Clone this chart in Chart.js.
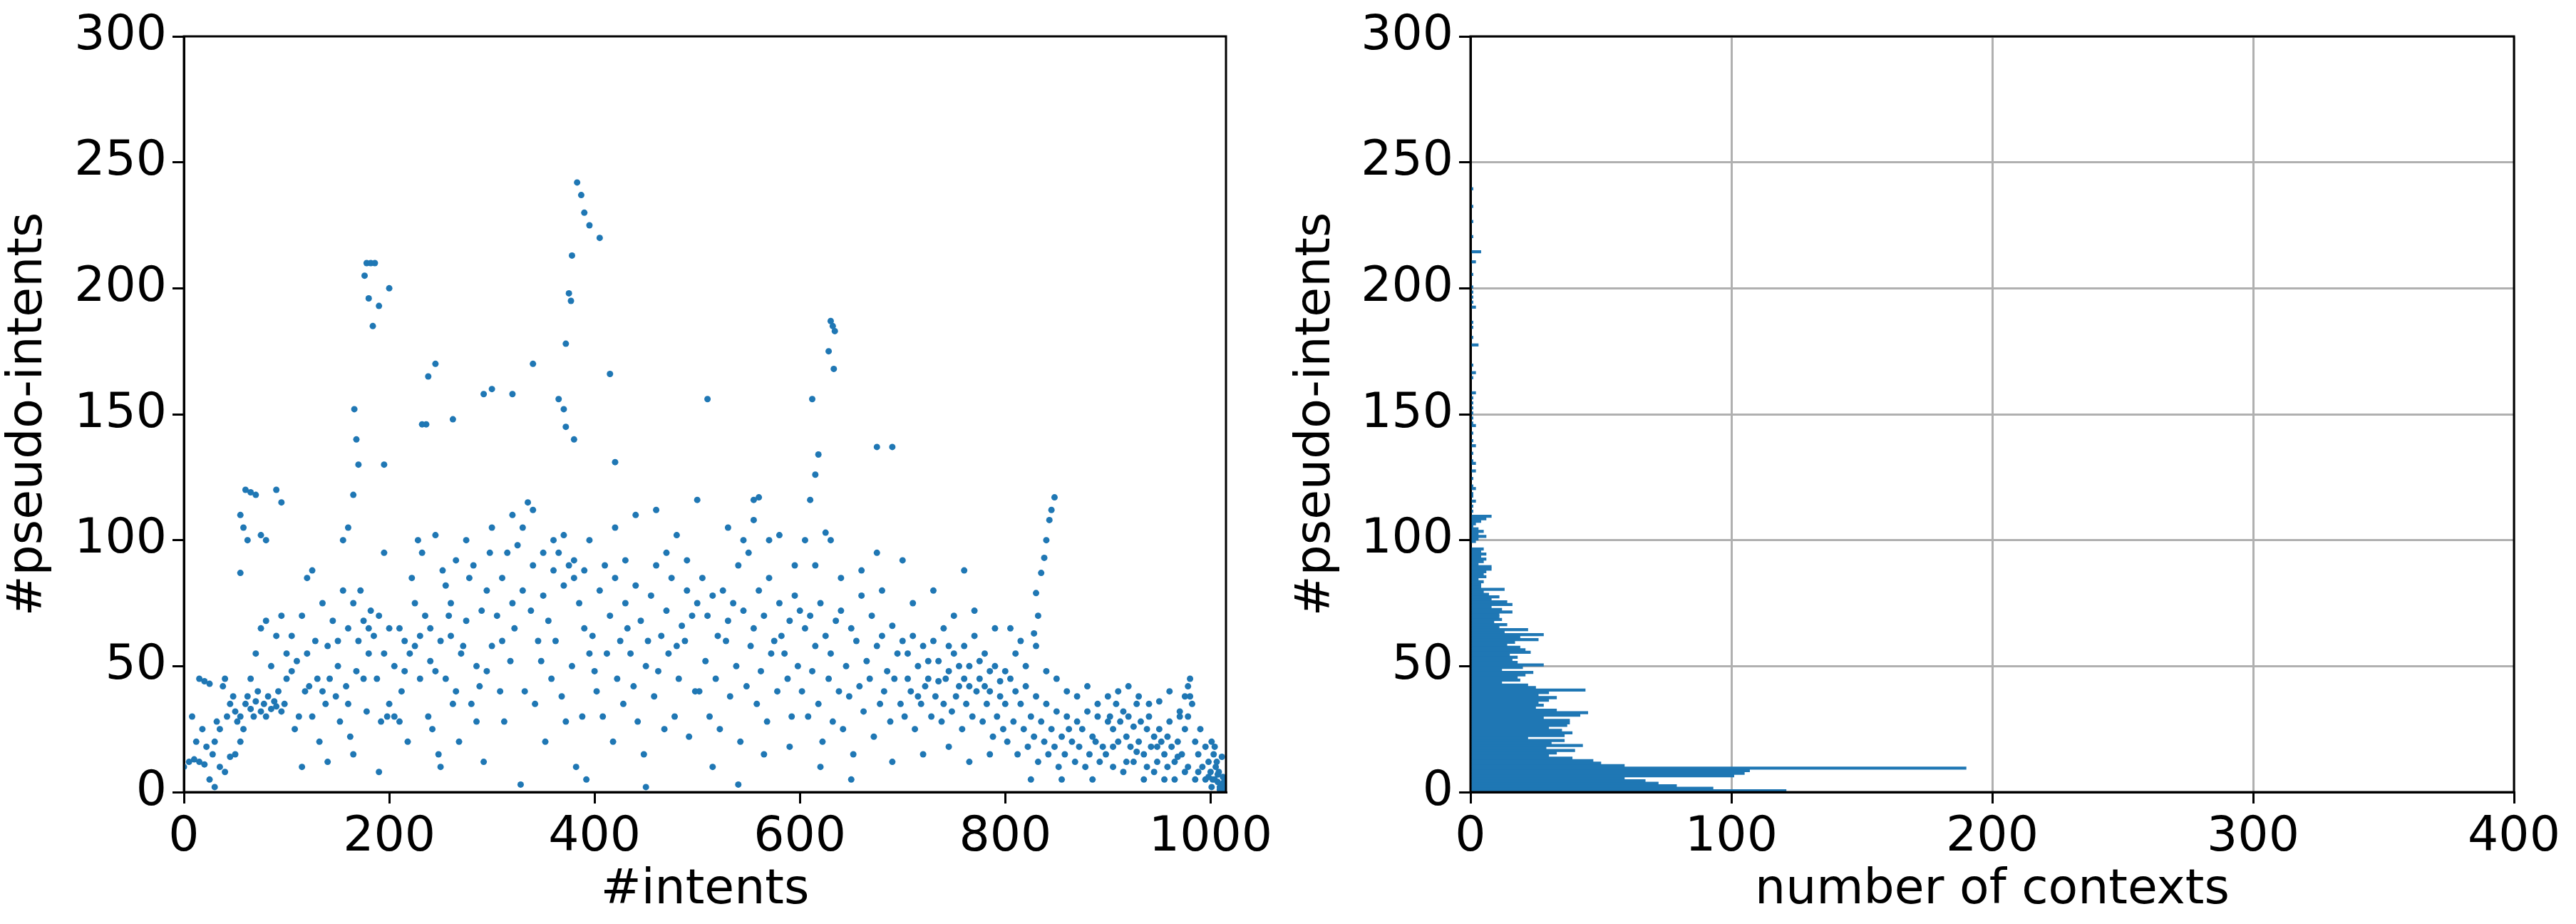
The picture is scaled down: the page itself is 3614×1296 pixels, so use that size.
<!DOCTYPE html>
<html>
<head>
<meta charset="utf-8">
<script src="https://cdn.jsdelivr.net/npm/chart.js@4.4.1/dist/chart.umd.min.js"></script>
<style>
  body { margin: 0; background: #fff; }
  #wrap { position: relative; width: 3614px; height: 1296px; }
  .box { position: absolute; top: 0; width: 1807px; height: 1296px; }
</style>
</head>
<body>
<div id="wrap">
  <div class="box" style="left:0"><canvas id="scatterChart"></canvas></div>
  <div class="box" style="left:1807px"><canvas id="histChart"></canvas></div>
</div>
<script>
// scatter: [#intents, #pseudo-intents]
const scatterPoints = [
  [0,10],[5,12],[10,13],[15,12],[20,11],[8,30],[15,45],[20,44],[25,43],[30,20],[32,28],[35,25],[38,42],[40,45],[42,30],[45,35],[48,38],[50,32],[52,28],[55,30],[58,25],[60,35],[62,38],[65,33],[68,30],[70,36],[72,40],[75,32],[78,35],[80,30],[82,38],[85,33],[88,36],[90,34],[92,40],[95,32],[98,35],[100,45],[25,5],[30,2],[40,8],[45,14],[12,20],[18,25],[22,18],[28,15],[35,10],[50,15],[55,20],[65,45],[70,55],[75,65],[80,68],[85,50],[90,62],[95,70],[100,55],
  [60,120],[65,119],[70,118],[55,110],[58,105],[62,100],[55,87],[90,120],[95,115],[75,102],[80,100],
  [105,48],[110,52],[115,70],[120,85],[125,88],[130,45],[135,40],[140,58],[145,68],[150,50],[155,80],[160,65],[165,75],[170,60],[175,68],[180,65],[185,62],[190,70],[195,55],[200,65],[108,25],[112,30],[118,40],[122,42],[128,60],[132,20],[138,35],[142,45],[148,38],[152,28],[158,42],[162,22],[168,48],[172,80],[178,32],[182,72],[188,45],[192,28],[198,30],[115,10],[140,12],[165,15],[190,8],[200,35],[205,30],[210,28],[125,30],[150,60],[175,45],[195,95],[180,55],[160,35],[120,55],[105,62],[135,75],
  [178,210],[182,210],[186,210],[176,205],[180,196],[190,193],[184,185],[200,200],[166,152],[168,140],[170,130],[160,105],[155,100],[195,130],[165,118],
  [210,65],[215,60],[220,55],[225,58],[230,62],[235,70],[240,52],[245,48],[250,60],[255,45],[260,75],[265,40],[270,55],[275,68],[280,35],[285,50],[290,72],[295,80],[300,58],[212,40],[218,20],[222,85],[228,100],[232,95],[238,30],[242,25],[248,15],[252,88],[258,70],[262,35],[268,20],[272,58],[278,85],[282,90],[288,42],[292,12],[298,95],[240,65],[260,62],[230,45],[285,28],[250,10],[275,100],[295,48],[225,75],[265,92],[205,50],[215,48],[245,102],[255,82],[300,105],
  [245,170],[238,165],[236,146],[232,146],[262,148],[292,158],[300,160],[320,158],[340,170],
  [305,70],[310,85],[315,95],[320,110],[325,98],[330,105],[335,115],[340,112],[345,60],[350,78],[355,68],[360,88],[365,95],[370,82],[375,90],[380,85],[385,75],[390,65],[395,55],[400,48],[308,40],[312,28],[318,52],[322,65],[328,3],[332,40],[338,72],[342,35],[348,52],[352,20],[358,45],[362,60],[368,38],[372,28],[378,50],[382,10],[388,30],[392,5],[398,62],[360,100],[370,102],[340,90],[320,75],[350,95],[380,92],[390,88],[395,100],[310,60],[330,80],
  [383,242],[387,237],[390,230],[395,225],[405,220],[378,213],[375,198],[377,195],[372,178],[365,156],[370,152],[372,145],[380,140],[415,166],[420,131],
  [405,80],[410,90],[415,70],[420,85],[425,60],[430,75],[435,55],[440,82],[445,68],[450,50],[455,78],[460,90],[465,62],[470,72],[475,85],[480,58],[485,66],[490,80],[495,70],[500,75],[402,40],[408,30],[412,55],[418,20],[422,45],[428,35],[432,65],[438,42],[442,28],[448,15],[452,60],[458,38],[462,48],[468,25],[472,55],[478,30],[482,45],[488,60],[492,22],[498,40],[440,110],[460,112],[480,102],[420,105],[450,2],[470,95],[490,92],[430,92],
  [505,85],[510,70],[515,78],[520,62],[525,80],[530,68],[535,75],[540,90],[545,72],[550,95],[555,65],[560,80],[565,70],[570,85],[575,60],[580,75],[585,55],[590,68],[595,78],[600,72],[502,40],[508,52],[512,30],[518,45],[522,25],[528,60],[532,38],[538,50],[542,20],[548,42],[552,58],[558,35],[562,48],[568,28],[572,55],[578,40],[582,62],[588,45],[592,30],[598,50],[515,10],[540,3],[565,15],[590,18],[545,100],[570,100],[595,90],[530,105],[555,108],[580,102],
  [630,187],[632,185],[634,183],[628,175],[633,168],[612,156],[618,134],[615,126],[510,156],[675,137],[690,137],[560,117],[555,116],[610,116],[500,116],
  [605,65],[610,70],[615,58],[620,75],[625,62],[630,55],[635,68],[640,72],[645,50],[650,65],[655,60],[660,78],[665,52],[670,70],[675,58],[680,62],[685,48],[690,66],[695,55],[700,60],[602,40],[608,30],[612,48],[618,35],[622,20],[628,45],[632,28],[638,40],[642,25],[648,38],[652,15],[658,42],[662,32],[668,45],[672,22],[678,35],[682,40],[688,28],[692,45],[698,35],[615,90],[640,85],[660,88],[680,80],[700,92],[620,10],[650,5],[690,12],[605,100],[675,95],[625,103],[630,100],
  [705,55],[710,62],[715,50],[720,58],[725,45],[730,60],[735,52],[740,65],[745,48],[750,55],[755,42],[760,58],[765,50],[770,62],[775,45],[780,55],[785,40],[790,50],[795,38],[800,48],[702,30],[708,40],[712,25],[718,35],[722,42],[728,30],[732,38],[738,28],[742,45],[748,32],[752,38],[758,25],[762,35],[768,30],[772,40],[778,28],[782,35],[788,22],[792,30],[798,25],[710,75],[730,80],[750,70],[770,72],[790,65],[720,15],[745,18],[765,12],[785,15],[760,88],
  [705,45],[715,38],[725,52],[735,44],[745,58],[755,50],[765,42],[775,52],[785,48],[795,44],[740,35],[760,45],[780,42],[800,35],
  [848,117],[845,112],[843,108],[840,100],[838,93],[835,87],[830,79],[832,70],[828,63],
  [805,45],[810,40],[815,35],[820,42],[825,30],[830,38],[835,28],[840,35],[845,25],[850,32],[855,22],[860,30],[865,20],[870,28],[875,25],[880,32],[885,22],[890,30],[895,18],[900,28],[802,20],[808,28],[812,15],[818,25],[822,18],[828,22],[832,12],[838,20],[842,15],[848,18],[852,10],[858,15],[862,25],[868,12],[872,18],[878,10],[882,15],[888,20],[892,12],[898,15],[810,55],[820,50],[830,58],[840,48],[850,45],[860,40],[870,38],[880,42],[890,35],[900,38],[815,60],[805,65],[825,5],[855,5],[885,5],
  [902,30],[905,25],[908,35],[910,20],[912,28],[915,32],[918,22],[920,30],[922,18],[925,26],[928,35],[930,20],[932,28],[935,15],[938,25],[940,30],[942,18],[945,22],[948,12],[950,25],[952,20],[955,15],[958,22],[960,28],[962,18],[965,12],[968,20],[970,30],[972,15],[975,25],[978,42],[980,45],[982,35],[985,20],[988,15],[990,25],[992,10],[995,18],[998,12],[1000,8],[905,10],[915,8],[925,12],[935,5],[945,8],[955,5],[965,5],[975,8],[985,5],[995,5],[910,40],[920,42],[930,38],[940,35],[950,36],[960,40],[970,32],[975,38],[978,30],[980,38],[905,18],[918,12],[928,16],[938,10],[948,18],[958,10],[968,14],[978,10],[988,8],[998,6],
  [1002,5],[1005,10],[1008,8],[1010,3],[1012,6],[1013,4],[1011,2],[1013,1],[1003,15],[1006,12],[1009,2],[1011,14],[1012,3],[1007,7],[1004,5],[1001,2],[1009,1],[1001,20],[1004,18],[1007,4]
];

// histogram: pseudo-intent value -> number of contexts
const histBins = [0,1,2,3,4,5,6,7,8,9,10,11,12,13,14,15,16,17,18,19,20,21,22,23,24,25,26,27,28,29,30,31,32,33,34,35,36,37,38,39,40,41,42,43,44,45,46,47,48,49,50,51,52,53,54,55,56,57,58,59,60,61,62,63,64,65,66,67,68,69,70,71,72,73,74,75,76,77,78,79,80,81,82,83,84,85,86,87,88,89,90,91,92,93,94,95,96,99,100,101,102,103,104,105,106,107,108,109,111,113,115,117,118,120,121,124,127,130,131,134,137,139,142,145,146,148,150,152,154,156,158,164,166,169,177,180,184,186,192,194,196,198,200,205,210,214,220,226,232,239];
const histCounts = [121,93,79,72,67,59,101,105,107,190,59,50,47,39,30,33,40,29,43,31,36,22,36,39,35,30,37,38,38,28,42,45,33,25,28,26,30,33,26,30,44,25,22,12,19,18,21,24,12,20,28,18,16,18,15,23,21,19,14,17,26,19,28,13,22,11,14,9,12,11,11,16,12,8,16,14,8,11,7,5,13,4,4,5,3,6,5,6,8,8,3,5,6,4,6,4,5,2,3,6,3,5,3,1,2,4,6,8,1,1,2,1,1,2,1,1,2,2,1,1,2,1,1,2,1,1,1,1,1,1,2,1,2,1,3,1,1,1,2,1,1,1,1,1,2,4,1,1,1,1,1];

const xTicksLeft = [0, 200, 400, 600, 800, 1000];
const yTicks = [0, 50, 100, 150, 200, 250, 300];
const xTicksRight = [0, 100, 200, 300, 400];

const blue = '#1f77b4';
Chart.defaults.font.family = 'DejaVu Sans';
Chart.defaults.font.size = 68;
Chart.defaults.color = '#000';
Chart.defaults.animation = false;

const frame = {
  id: 'frame',
  afterDraw(chart) {
    const a = chart.chartArea, c = chart.ctx;
    c.save();
    c.strokeStyle = '#000';
    c.lineWidth = 3;
    c.strokeRect(a.left, a.top, a.right - a.left, a.bottom - a.top);
    c.restore();
  }
};

function axis(min, max, ticks, title, gridColor, size, isY) {
  return {
    type: 'linear', min: min, max: max, offset: false,
    afterBuildTicks: s => { s.ticks = ticks.map(v => ({ value: v })); },
    afterFit: s => { if (isY) s.width = size; else s.height = size; },
    title: { display: true, text: title, font: { size: 68 }, padding: { top: 0, bottom: 6 } },
    grid: { color: gridColor, lineWidth: 3, tickColor: '#000', tickLength: 16, drawTicks: true, offset: false },
    border: { color: '#000', width: 3 },
    ticks: { padding: 8, maxRotation: 0, font: { size: 68 }, callback: v => String(v) }
  };
}

new Chart(document.getElementById('scatterChart'), {
  type: 'scatter',
  data: {
    datasets: [{
      data: scatterPoints.map(p => ({ x: p[0], y: p[1] })),
      backgroundColor: blue,
      borderWidth: 0,
      pointRadius: 4.5
    }]
  },
  options: {
    responsive: true,
    maintainAspectRatio: false,
    layout: { padding: { top: 51, right: 87, left: 0, bottom: 0 } },
    plugins: { legend: { display: false }, tooltip: { enabled: false } },
    scales: {
      x: axis(0, 1015, xTicksLeft, '#intents', 'rgba(0,0,0,0)', 185, false),
      y: axis(0, 300, yTicks, '#pseudo-intents', 'rgba(0,0,0,0)', 258, true)
    }
  },
  plugins: [frame]
});

new Chart(document.getElementById('histChart'), {
  type: 'bar',
  data: {
    datasets: [{
      data: histBins.map((b, i) => ({ y: b + 0.5, x: histCounts[i] })),
      backgroundColor: blue,
      borderWidth: 0,
      barThickness: 3.6
    }]
  },
  options: {
    indexAxis: 'y',
    responsive: true,
    maintainAspectRatio: false,
    layout: { padding: { top: 51, right: 87, left: 0, bottom: 0 } },
    plugins: { legend: { display: false }, tooltip: { enabled: false } },
    scales: {
      x: axis(0, 400, xTicksRight, 'number of contexts', '#b0b0b0', 185, false),
      y: axis(0, 300, yTicks, '#pseudo-intents', '#b0b0b0', 256, true)
    }
  },
  plugins: [frame]
});
</script>
</body>
</html>
